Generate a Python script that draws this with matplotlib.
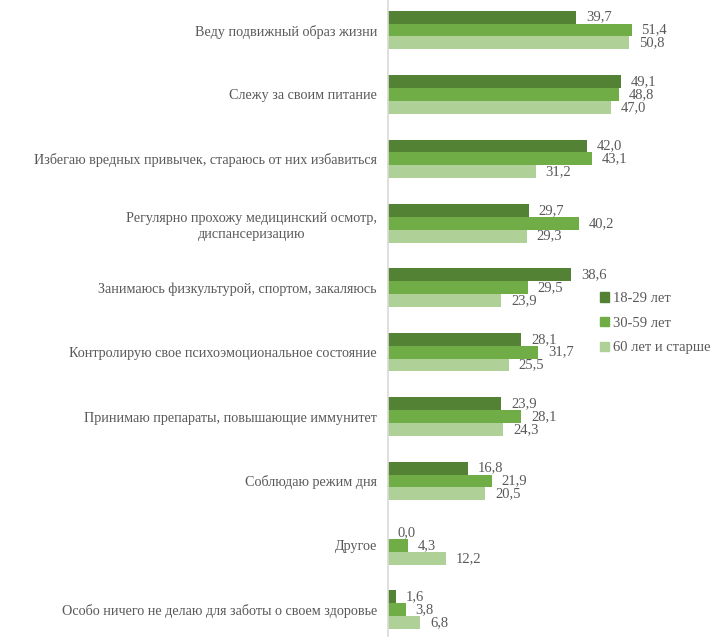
#Health habits by age group
#Grouped horizontal bars.

import numpy as np
import matplotlib.pyplot as plt
from matplotlib.patches import Patch

categories = [
    "Веду подвижный образ жизни",
    "Слежу за своим питание",
    "Избегаю вредных привычек, стараюсь от них избавиться",
    "Регулярно прохожу медицинский осмотр,\nдиспансеризацию",
    "Занимаюсь физкультурой, спортом, закаляюсь",
    "Контролирую свое психоэмоциональное состояние",
    "Принимаю препараты, повышающие иммунитет",
    "Соблюдаю режим дня",
    "Другое",
    "Особо ничего не делаю для заботы о своем здоровье",
]
age_18_29 = [39.7, 49.1, 42.0, 29.7, 38.6, 28.1, 23.9, 16.8, 0.0, 1.6]
age_30_59 = [51.4, 48.8, 43.1, 40.2, 29.5, 31.7, 28.1, 21.9, 4.3, 3.8]
age_60 = [50.8, 47.0, 31.2, 29.3, 23.9, 25.5, 24.3, 20.5, 12.2, 6.8]
series_names = ["18-29 лет", "30-59 лет", "60 лет и старше"]

colors = ["#548235", "#70AD47", "#AFD197"]
text_color = "#595959"
plt.rcParams['font.family'] = ['Liberation Serif', 'DejaVu Serif']

fig = plt.figure(figsize=(7.2, 6.42), dpi=100)
ax = fig.add_axes([388/720, 0, 332/720, 1])

y = np.arange(len(categories))
h = 0.2
for i, vals in enumerate([age_18_29, age_30_59, age_60]):
    pos = y + (i - 1) * h
    ax.barh(pos, vals, height=h, color=colors[i], label=series_names[i])
    for p, v in zip(pos, vals):
        ax.annotate(f"{v:.1f}".replace(".", ","), (v, p), xytext=(7, 0),
                    textcoords="offset points", va="center", ha="left",
                    fontsize=10.5, color=text_color)

ax.set_xlim(0, 70)
ax.set_ylim(9.5, -0.466)
ax.set_yticks(y)
ax.set_yticklabels(categories, fontsize=10.2, color=text_color, ha="right",
                   multialignment="center", linespacing=1.3)
ax.tick_params(axis="y", length=0, pad=8)
ax.set_xticks([])
for s in ["top", "right", "bottom"]:
    ax.spines[s].set_visible(False)
ax.spines["left"].set_color("#D9D9D9")
ax.spines["left"].set_linewidth(1.2)
ax.spines["left"].set_bounds(9.4, -0.45)

handles = [Patch(color=c) for c in colors]
fig.legend(handles, series_names, loc="upper left",
           bbox_to_anchor=(587/720, 1 - 279/642), frameon=False,
           handlelength=0.6, handleheight=0.6, handletextpad=0.3,
           labelspacing=0.8, prop={'size': 10.5}, labelcolor=text_color)

fig.savefig("out.png", dpi=100)
